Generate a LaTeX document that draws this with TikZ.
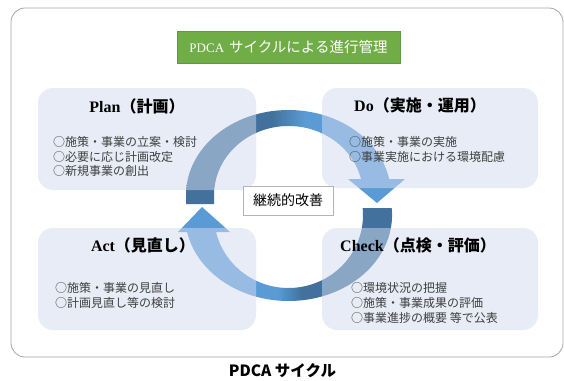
\documentclass[tikz,border=0pt]{standalone}
\usepackage{fontspec}
\setmainfont{Liberation Serif}
\newfontfamily\jp{Noto Sans CJK JP}
\definecolor{arcDark}{HTML}{41719C}
\definecolor{arcMid}{HTML}{5B9BD5}
\definecolor{boxFill}{HTML}{D3DBEF}
\definecolor{frameGray}{HTML}{A6A6A6}
\definecolor{titleGreen}{HTML}{70AD47}
\definecolor{titleEdge}{HTML}{5E9A3B}
\definecolor{bodyGray}{HTML}{3F3F3F}
\definecolor{labelGray}{HTML}{B4B4B4}
\pgfdeclarehorizontalshading{topArcShade}{100bp}{color(0bp)=(arcDark); color(44.6bp)=(arcDark); color(52.2bp)=(arcMid); color(100bp)=(arcMid)}
\pgfdeclarehorizontalshading{botArcShade}{100bp}{color(0bp)=(arcMid); color(47.7bp)=(arcMid); color(53.5bp)=(arcDark); color(100bp)=(arcDark)}
\begin{document}
\begin{tikzpicture}[x=1pt,y=1pt,
  frameline/.style={draw=frameGray, line width=0.8pt, fill=white, rounded corners=14pt},
  phasebox/.style={fill=boxFill, fill opacity=0.5, rounded corners=15pt, inner sep=0pt, draw=none},
  titlebox/.style={fill=titleGreen, draw=titleEdge, line width=0.6pt, minimum width=223pt, minimum height=32pt, inner sep=0pt, text=white},
  headtext/.style={font=\fontsize{16}{18}\selectfont\bfseries, inner sep=0pt, text=black},
  bodytext/.style={font=\jp\fontsize{12}{14}\selectfont, text=bodyGray, anchor=west, inner sep=0pt},
  labelbox/.style={draw=labelGray, line width=0.6pt, fill=white, minimum width=90pt, minimum height=29pt, inner sep=0pt, font=\jp\fontsize{14}{16}\selectfont}]
\useasboundingbox (0,0) rectangle (564,-380);
% outer frame
\draw[frameline] (11,-8) rectangle (563,-357);
% circular arrows (drawn beneath the translucent boxes)
\shade[shading=topArcShade] (186,-204) -- (186,-195)
  arc[start angle=180, end angle=10.85, x radius=102.5, y radius=85]
  -- (405,-179) -- (377,-203) -- (348,-179) -- (361,-179)
  arc[start angle=13.41, end angle=180, x radius=74.5, y radius=69]
  -- (214,-204) -- cycle;
\shade[shading=botArcShade] (391.7,-208)
  arc[start angle=4.67, end angle=-168.6, x radius=103.5, y radius=86]
  -- (178,-232) -- (202,-207) -- (230,-232) -- (216.05,-232)
  arc[start angle=-166.53, end angle=5.5, x radius=74.5, y radius=73]
  -- cycle;
% phase boxes
\node[phasebox, minimum width=218pt, minimum height=102pt] (planbox) at (147,-139) {};
\node[phasebox, minimum width=216pt, minimum height=100pt] (dobox) at (430,-138) {};
\node[phasebox, minimum width=218pt, minimum height=102pt] (actbox) at (147,-279) {};
\node[phasebox, minimum width=216pt, minimum height=102pt] (checkbox) at (430,-279) {};
% title
\node[titlebox] (title) at (288.5,-47) {{\fontsize{13}{14}\selectfont PDCA}\hspace{5pt}{\jp\fontsize{14.5}{16}\selectfont サイクルによる進行管理}};
% headings
\node[headtext] (plantitle) at (137,-106) {Plan{\jp\bfseries （計画）}};
\node[headtext] (dotitle) at (420,-105) {Do{\jp\bfseries （実施・運用）}};
\node[headtext] (acttitle) at (143,-245) {Act{\jp\bfseries （見直し）}};
\node[headtext] (checktitle) at (418,-245) {Check{\jp\bfseries （点検・評価）}};
% body texts
\node[bodytext] (p1) at (53,-142) {○施策・事業の立案・検討};
\node[bodytext] (p2) at (53,-156.5) {○必要に応じ計画改定};
\node[bodytext] (p3) at (53,-171) {○新規事業の創出};
\node[bodytext] (d1) at (349,-142) {○施策・事業の実施};
\node[bodytext] (d2) at (349,-157) {○事業実施における環境配慮};
\node[bodytext] (a1) at (55,-288) {○施策・事業の見直し};
\node[bodytext] (a2) at (55,-303) {○計画見直し等の検討};
\node[bodytext] (c1) at (351,-288) {○環境状況の把握};
\node[bodytext] (c2) at (351,-303) {○施策・事業成果の評価};
\node[bodytext] (c3) at (351,-318) {○事業進捗の概要 等で公表};
% centre label
\node[labelbox] (improve) at (288,-200.5) {継続的改善};
% caption
\node[font=\jp\bfseries\fontsize{15.5}{17}\selectfont, inner sep=0pt] (caption) at (282.5,-370.5) {PDCA サイクル};
\end{tikzpicture}
\end{document}
